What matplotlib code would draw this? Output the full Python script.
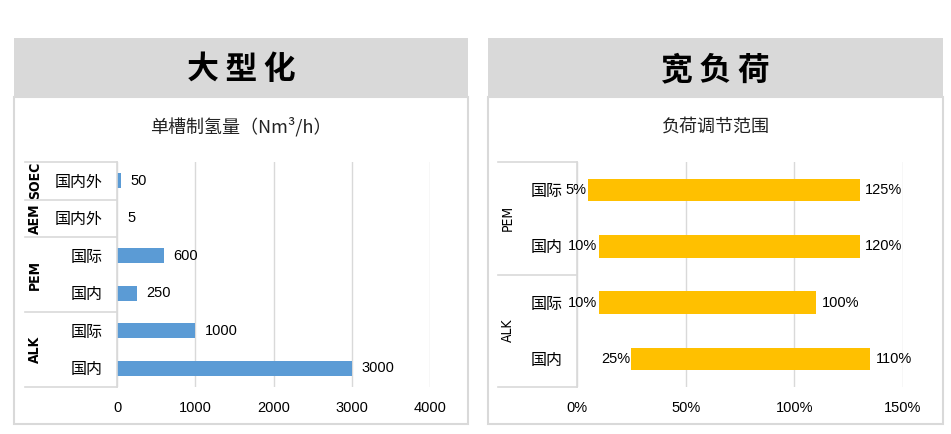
import matplotlib
matplotlib.use("Agg")
import matplotlib.pyplot as plt
import matplotlib.transforms as mtransforms
from matplotlib.patches import Rectangle

plt.rcParams['font.family'] = ['Liberation Sans', 'Noto Sans CJK SC', 'DejaVu Sans']

W, H = 951, 434

# left chart: single cell hydrogen output
cap_groups = ["ALK", "PEM", "AEM", "SOEC"]
cap_group_sizes = [2, 2, 1, 1]
cap_labels = ["国内", "国际", "国内", "国际", "国内外", "国内外"]
cap_values = [3000, 1000, 250, 600, 5, 50]
cap_ticks = [0, 1000, 2000, 3000, 4000]

# right chart: load range (min, span)
load_groups = ["ALK", "PEM"]
load_group_sizes = [2, 2]
load_labels = ["国内", "国际", "国内", "国际"]
load_min = [0.25, 0.10, 0.10, 0.05]
load_span = [1.10, 1.00, 1.20, 1.25]
load_ticks = [0, 0.5, 1.0, 1.5]
load_tick_labels = ["0%", "50%", "100%", "150%"]

BLUE = "#5B9BD5"
GOLD = "#FFC000"
GRID = "#D9D9D9"
HEAD = "#D9D9D9"

fig = plt.figure(figsize=(W / 100, H / 100), dpi=100)


def box(x0, y0, x1, y1):
    return [x0 / W, 1 - y1 / H, (x1 - x0) / W, (y1 - y0) / H]


# background: panels and headers in pixel coords
bg = fig.add_axes([0, 0, 1, 1])
bg.set_xlim(0, W)
bg.set_ylim(H, 0)
bg.axis("off")
panels = [(14, 468, "大型化", "单槽制氢量（Nm³/h）"), (488, 943, "宽负荷", "负荷调节范围")]
for x0, x1, head, sub in panels:
    bg.add_patch(Rectangle((x0, 97), x1 - x0, 327, facecolor="white", edgecolor=GRID, lw=1.5))
    bg.add_patch(Rectangle((x0, 38), x1 - x0, 59, facecolor=HEAD, edgecolor="none"))
    bg.text((x0 + x1) / 2, 70, "\u2009".join(head), ha="center", va="center", fontsize=23,
            fontweight="bold", family=["Noto Sans CJK SC", "DejaVu Sans"], color="black")
    bg.text((x0 + x1) / 2, 127, sub, ha="center", va="center", fontsize=13,
            family=["Noto Sans CJK SC", "DejaVu Sans"], color="#222222")


def category_axis(ax, x_label_px, x_left_px, axis_px, labels, groups, sizes, bold):
    # multi-level category axis like Excel
    n = len(labels)
    ax.set_ylim(-0.5, n - 0.5)
    ax.set_yticks(range(n))
    ax.set_yticklabels(labels, fontsize=11.5)
    ax.tick_params(axis="y", length=0, pad=14 * 0.72)
    trans = mtransforms.blended_transform_factory(ax.transAxes, ax.transData)
    width = ax.get_position().width * W
    fx = lambda px: (px - axis_px) / width
    start = -0.5
    bounds = [start]
    for g, s in zip(groups, sizes):
        center = start + s / 2
        ax.text(fx(x_label_px), center, g, transform=trans, rotation=90, ha="center",
                va="center", fontsize=10, fontweight="bold" if bold else "normal",
                family=["DejaVu Sans"], fontstretch="condensed")
        start += s
        bounds.append(start)
    for b in bounds:
        ax.plot([fx(x_left_px), 0], [b, b], transform=trans, color=GRID, lw=1.2, clip_on=False)


# left chart
axL = fig.add_axes(box(117, 162, 430, 387))
axL.barh(range(len(cap_values)), cap_values, height=0.4, color=BLUE)
for i, v in enumerate(cap_values):
    axL.annotate(str(v), (v, i), xytext=(7, 0), textcoords="offset points",
                 ha="left", va="center", fontsize=10.5)
axL.set_xlim(0, 4000)
axL.set_xticks(cap_ticks)
axL.set_xticklabels([str(t) for t in cap_ticks], fontsize=10.5)
axL.tick_params(axis="x", length=0, pad=10)
axL.grid(axis="x", color=GRID, lw=1)
axL.set_axisbelow(True)
for s in ["top", "right", "bottom"]:
    axL.spines[s].set_visible(False)
axL.spines["left"].set_color(GRID)
axL.spines["left"].set_linewidth(1.2)
category_axis(axL, 35, 25, 117, cap_labels, cap_groups, cap_group_sizes, True)

# right chart
axR = fig.add_axes(box(577, 162, 903, 387))
axR.barh(range(len(load_span)), load_span, left=load_min, height=0.4, color=GOLD)
for i, (m, s) in enumerate(zip(load_min, load_span)):
    axR.annotate(f"{round(m * 100)}%", (m, i), xytext=(-1, 0), textcoords="offset points",
                 ha="right", va="center", fontsize=10.5)
    axR.annotate(f"{round(s * 100)}%", (m + s, i), xytext=(4, 0), textcoords="offset points",
                 ha="left", va="center", fontsize=10.5)
axR.set_xlim(0, 1.5)
axR.set_xticks(load_ticks)
axR.set_xticklabels(load_tick_labels, fontsize=10.5)
axR.tick_params(axis="x", length=0, pad=10)
axR.grid(axis="x", color=GRID, lw=1)
axR.set_axisbelow(True)
for s in ["top", "right", "bottom"]:
    axR.spines[s].set_visible(False)
axR.spines["left"].set_color(GRID)
axR.spines["left"].set_linewidth(1.2)
category_axis(axR, 508, 498, 577, load_labels, load_groups, load_group_sizes, False)

fig.savefig("out.png", dpi=100)
